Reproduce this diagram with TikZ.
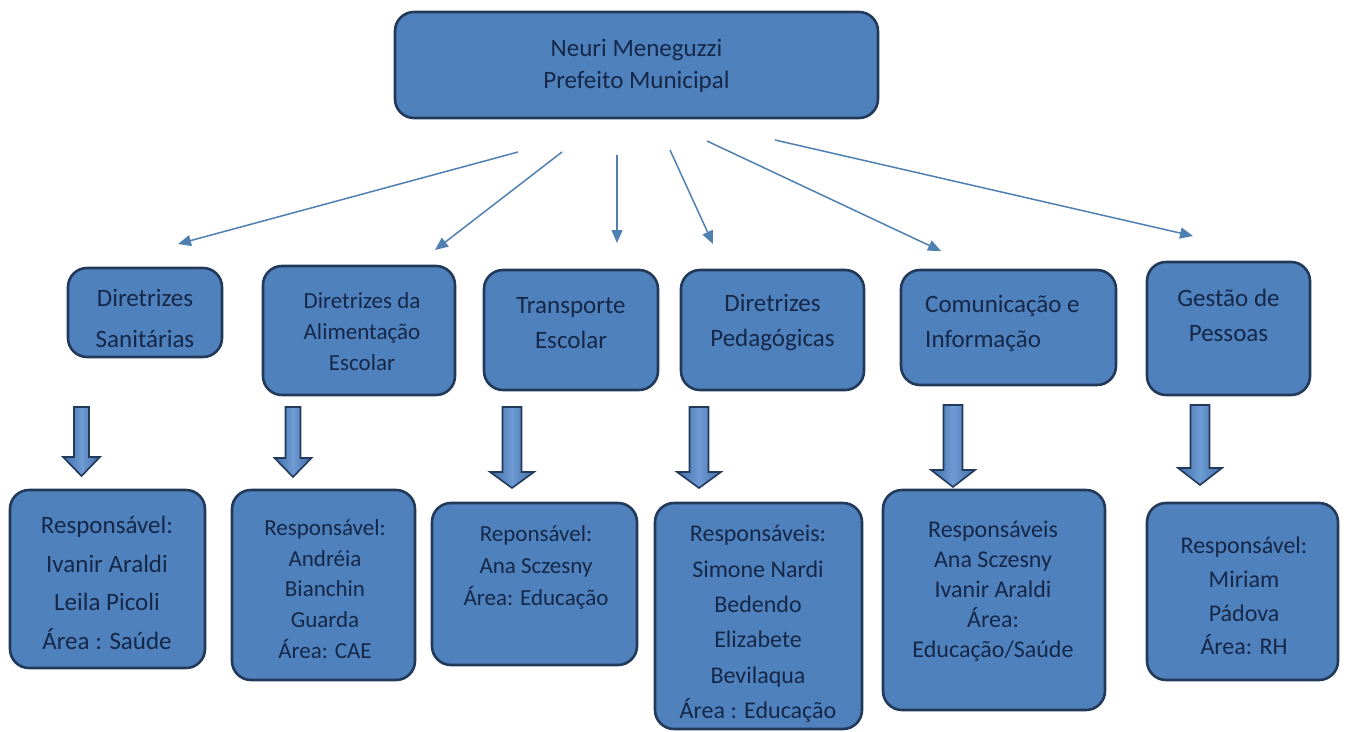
\documentclass[tikz,border=0pt]{standalone}
\usepackage{fontspec}
\setmainfont{Carlito}
\usetikzlibrary{arrows.meta,calc}
\definecolor{boxfill}{HTML}{4F81BD}
\definecolor{boxedge}{HTML}{22395A}
\definecolor{txtcol}{HTML}{15284A}
\definecolor{thinarr}{HTML}{5080B2}
\definecolor{arrdark}{HTML}{3F6DA8}
\definecolor{arrlight}{HTML}{6E9BD3}
\newcommand{\blockarr}[7]{%
  \coordinate (#1) at (#2,#3);
  \draw[blk] ({#2-#6},#3) -- ({#2+#6},#3) -- ({#2+#6},#4) -- ({#2+#7},#4)
    -- (#2,#5) -- ({#2-#7},#4) -- ({#2-#6},#4) -- cycle;}
\begin{document}
\begin{tikzpicture}[x=1pt,y=-1pt,
  ubox/.style={draw=boxedge,line width=2.6pt,fill=boxfill,rounded corners=19pt,
     minimum width=#1,inner sep=0pt},
  txt/.style={text=txtcol,align=center,inner sep=0pt},
  thin/.style={draw=thinarr,line width=1.5pt,-{Triangle[length=13pt,width=11pt]}},
  blk/.style={draw=boxedge,line width=1.6pt,left color=arrdark,right color=arrdark,middle color=arrlight}]
\useasboundingbox (0,0) rectangle (1348,731);

% top
\node[ubox=483pt,minimum height=106pt] (top) at (636.5,65) {};
\node[txt,font=\fontsize{25}{32}\selectfont] (topt) at (636.5,66) {Neuri Meneguzzi\\Prefeito Municipal};

% middle row
\node[ubox=154pt,minimum height=89pt] (b1) at (145,312.5) {};
\node[txt,font=\fontsize{25}{41}\selectfont] (b1t) at (145,318) {Diretrizes\\Sanitárias};

\node[ubox=192pt,minimum height=129pt] (b2) at (359,330.5) {};
\node[txt,font=\fontsize{23}{31}\selectfont] (b2t) at (362,332) {Diretrizes da\\Alimentação\\Escolar};

\node[ubox=174pt,minimum height=120pt] (b3) at (571,330) {};
\node[txt,font=\fontsize{25}{35}\selectfont] (b3t) at (571,323) {Transporte\\Escolar};

\node[ubox=183pt,minimum height=120pt] (b4) at (772.5,330) {};
\node[txt,font=\fontsize{25}{35}\selectfont] (b4t) at (772.5,323) {Diretrizes\\Pedagógicas};

\node[ubox=215pt,minimum height=115pt] (b5) at (1008.5,327.5) {};
\node[txt,align=left,anchor=west,font=\fontsize{25}{35}\selectfont] (b5t) at (925,323) {Comunicação e\\Informação};

\node[ubox=163pt,minimum height=133pt] (b6) at (1228.5,328.5) {};
\node[txt,font=\fontsize{25}{35}\selectfont] (b6t) at (1228.5,315) {Gestão de\\Pessoas};

% bottom row
\node[ubox=195pt,minimum height=178pt] (c1) at (107.5,579) {};
\node[txt,font=\fontsize{25}{38.7}\selectfont] (c1t) at (107,583) {Responsável:\\Ivanir Araldi\\Leila Picoli\\Área : Saúde};

\node[ubox=183pt,minimum height=190pt] (c2) at (323.5,585) {};
\node[txt,font=\fontsize{23}{30.8}\selectfont] (c2t) at (325,589) {Responsável:\\Andréia\\Bianchin\\Guarda\\Área: CAE};

\node[ubox=205pt,minimum height=162pt] (c3) at (534.5,584) {};
\node[txt,font=\fontsize{23}{32}\selectfont] (c3t) at (536,567) {Reponsável:\\Ana Sczesny\\Área: Educação};

\node[ubox=207pt,minimum height=226pt] (c4) at (758.5,616) {};
\node[txt,font=\fontsize{24}{35.4}\selectfont] (c4t) at (758,624) {Responsáveis:\\Simone Nardi\\Bedendo\\Elizabete\\Bevilaqua\\Área : Educação};

\node[ubox=222pt,minimum height=220pt] (c5) at (994,600) {};
\node[txt,font=\fontsize{24}{30}\selectfont] (c5t) at (993,591) {Responsáveis\\Ana Sczesny\\Ivanir Araldi\\Área:\\Educação/Saúde};

\node[ubox=191pt,minimum height=177pt] (c6) at (1242.5,591.5) {};
\node[txt,font=\fontsize{24}{33.7}\selectfont] (c6t) at (1244,596) {Responsável:\\Miriam\\Pádova\\Área: RH};

% thin arrows from the top box
\coordinate (s1) at (518,152); \coordinate (e1) at (178,244);
\coordinate (s2) at (562,152); \coordinate (e2) at (435,250);
\coordinate (s3) at (617,155); \coordinate (e3) at (617,243);
\coordinate (s4) at (670,150); \coordinate (e4) at (713,244);
\coordinate (s5) at (707,141); \coordinate (e5) at (941,251);
\coordinate (s6) at (775,140); \coordinate (e6) at (1193,236);
\foreach \i in {1,...,6} \draw[thin] (s\i) -- (e\i);

% block arrows
\blockarr{a1}{81.5}{407}{457}{476}{7.5}{18.5}
\blockarr{a2}{293}{407}{458}{477}{7.5}{18.5}
\blockarr{a3}{512}{407}{472}{488}{9.5}{22}
\blockarr{a4}{699}{407}{472}{488}{9.5}{22}
\blockarr{a5}{953}{405}{470}{487}{9.5}{22}
\blockarr{a6}{1200}{405}{468}{485}{9.5}{22}
\end{tikzpicture}
\end{document}
